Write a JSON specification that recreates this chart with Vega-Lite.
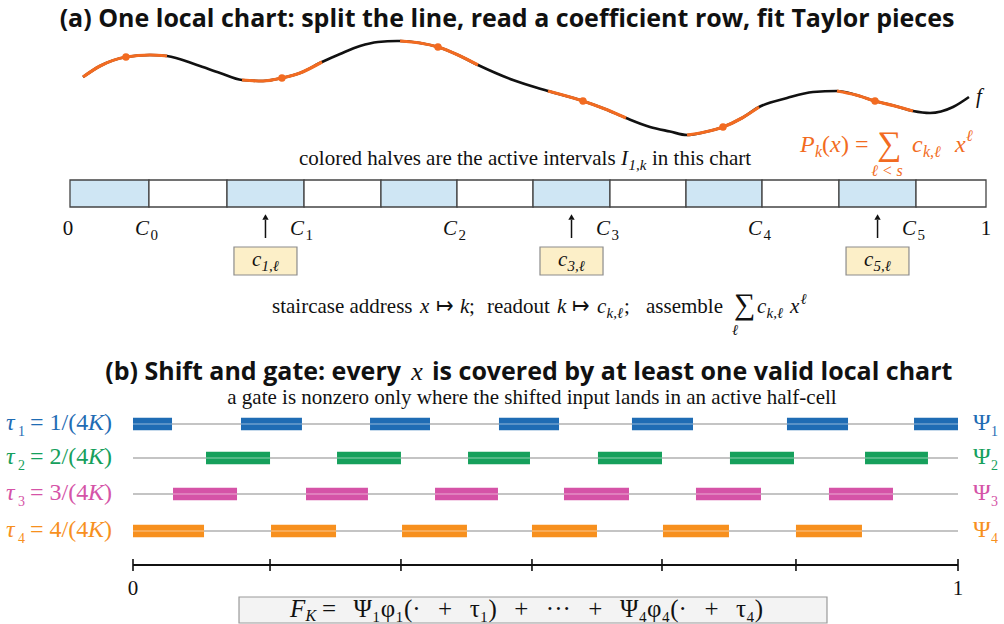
{
"$schema": "https://vega.github.io/schema/vega-lite/v6.json",
"padding": 0,
"spacing": 0,
"background": "white",
"config": {"view": {"stroke": null}, "concat": {"spacing": 0}},
"datasets": {
"cells": [
{"u0":0,"u1":0.0862,"active":true},{"u0":0.0862,"u1":0.1714,"active":false},
{"u0":0.1714,"u1":0.2555,"active":true},{"u0":0.2555,"u1":0.3395,"active":false},
{"u0":0.3395,"u1":0.4225,"active":true},{"u0":0.4225,"u1":0.5055,"active":false},
{"u0":0.5055,"u1":0.5895,"active":true},{"u0":0.5895,"u1":0.6725,"active":false},
{"u0":0.6725,"u1":0.7555,"active":true},{"u0":0.7555,"u1":0.8395,"active":false},
{"u0":0.8395,"u1":0.9236,"active":true},{"u0":0.9236,"u1":1.0,"active":false}],
"curve": [
{"u":0.0142,"v":77,"seg":1},{"u":0.0328,"v":66,"seg":1},{"u":0.0611,"v":57,"seg":1,"dot":1},{"u":0.0873,"v":55,"seg":1},{"u":0.1059,"v":56,"seg":1},
{"u":0.1386,"v":65,"seg":0},{"u":0.1638,"v":73,"seg":0},
{"u":0.1878,"v":80,"seg":2},{"u":0.2107,"v":81,"seg":2},{"u":0.2314,"v":78,"seg":2,"dot":1},{"u":0.2511,"v":73,"seg":2},{"u":0.2751,"v":62,"seg":2},
{"u":0.2948,"v":54,"seg":0},{"u":0.3166,"v":46,"seg":0},{"u":0.3362,"v":42,"seg":0},{"u":0.3570,"v":41,"seg":0},
{"u":0.3603,"v":41,"seg":3},{"u":0.3821,"v":43,"seg":3},{"u":0.4017,"v":47,"seg":3,"dot":1},{"u":0.4236,"v":55,"seg":3},{"u":0.4454,"v":65,"seg":3},
{"u":0.4836,"v":80,"seg":0},
{"u":0.5218,"v":91,"seg":4},{"u":0.5600,"v":101,"seg":4,"dot":1},{"u":0.5841,"v":109,"seg":4},{"u":0.6070,"v":118,"seg":4},
{"u":0.6332,"v":127,"seg":0},{"u":0.6550,"v":131.5,"seg":0},
{"u":0.6736,"v":135,"seg":5},{"u":0.6932,"v":132,"seg":5},{"u":0.7129,"v":127,"seg":5,"dot":1},{"u":0.7336,"v":118,"seg":5},{"u":0.7522,"v":107,"seg":5},
{"u":0.7828,"v":98,"seg":0},{"u":0.8111,"v":92,"seg":0},
{"u":0.8373,"v":91,"seg":6},{"u":0.8581,"v":95,"seg":6},{"u":0.8788,"v":101,"seg":6,"dot":1},{"u":0.9007,"v":106,"seg":6},{"u":0.9203,"v":111,"seg":6},
{"u":0.9389,"v":113,"seg":0},{"u":0.9640,"v":107,"seg":0},{"u":0.9814,"v":97,"seg":0}],
"arrows": [{"u":0.2134},{"u":0.5475},{"u":0.8816}],
"boxes": [{"u0":0.1790,"u1":0.2478},{"u0":0.5131,"u1":0.5819},{"u0":0.8472,"u1":0.9159}],
"a_title": [{"u":0.4771,"v":27,"t":"(a) One local chart: split the line, read a coefficient row, fit Taylor pieces"}],
"a_rm": [
{"u":0.2500,"v":165,"t":"colored halves are the active intervals"},
{"u":0.6354,"v":165,"t":"in this chart"},
{"u":0.2205,"v":313,"t":"staircase address"},
{"u":0.3996,"v":313,"t":"↦"},
{"u":0.4356,"v":313,"t":";"},
{"u":0.4552,"v":313,"t":"readout"},
{"u":0.5480,"v":313,"t":"↦"},
{"u":0.6048,"v":313,"t":";"},
{"u":0.6288,"v":313,"t":"assemble"}],
"a_rm_c": [{"u":-0.0022,"v":235,"t":"0"},{"u":1.0,"v":235,"t":"1"}],
"a_C": [{"u":0.0862,"v":235,"t":"C"},{"u":0.2555,"v":235,"t":"C"},{"u":0.4225,"v":235,"t":"C"},{"u":0.5895,"v":235,"t":"C"},{"u":0.7555,"v":235,"t":"C"},{"u":0.9236,"v":235,"t":"C"}],
"a_Csub": [{"u":0.0878,"v":240,"t":"0"},{"u":0.2571,"v":240,"t":"1"},{"u":0.4241,"v":240,"t":"2"},{"u":0.5911,"v":240,"t":"3"},{"u":0.7571,"v":240,"t":"4"},{"u":0.9252,"v":240,"t":"5"}],
"a_it": [
{"u":0.6015,"v":165,"t":"I"},
{"u":0.3821,"v":313,"t":"x"},
{"u":0.4258,"v":313,"t":"k"},
{"u":0.5317,"v":313,"t":"k"},
{"u":0.5753,"v":313,"t":"c"},
{"u":0.7500,"v":313,"t":"c"},
{"u":0.7860,"v":313,"t":"x"},
{"u":0.1987,"v":266,"t":"c"},
{"u":0.5328,"v":266,"t":"c"},
{"u":0.8668,"v":266,"t":"c"},
{"u":0.9891,"v":103,"t":"f"}],
"a_sub": [
{"u":0.6097,"v":170,"t":"1,k"},
{"u":0.5857,"v":318,"t":"k,ℓ"},
{"u":0.7604,"v":318,"t":"k,ℓ"},
{"u":0.7975,"v":304,"t":"ℓ"},
{"u":0.2091,"v":271,"t":"1,ℓ"},
{"u":0.5431,"v":271,"t":"3,ℓ"},
{"u":0.8772,"v":271,"t":"5,ℓ"}],
"a_sub_c": [{"u":0.7260,"v":335,"t":"ℓ"}],
"a_sum": [{"u":0.7249,"v":314,"t":"∑"}],
"o_it": [{"u":0.7969,"v":152,"t":"P"},{"u":0.8297,"v":152,"t":"x"},{"u":0.9192,"v":152,"t":"c"},{"u":0.9662,"v":152,"t":"x"}],
"o_rm": [{"u":0.8210,"v":152,"t":"("},{"u":0.8417,"v":152,"t":") ="}],
"o_sub": [{"u":0.8133,"v":157,"t":"k"},{"u":0.9312,"v":157,"t":"k,ℓ"},{"u":0.9782,"v":141,"t":"ℓ"}],
"o_sub_c": [{"u":0.8919,"v":176,"t":"ℓ < s"}],
"o_sum": [{"u":0.8810,"v":155,"t":"∑"}],
"b_title_l": [{"w":0.3248,"v":380,"t":"(b) Shift and gate: every"}],
"b_title_r": [{"w":0.3624,"v":380,"t":"is covered by at least one valid local chart"}],
"b_x": [{"w":0.3442,"v":380,"t":"x"}],
"b_subtitle": [{"w":0.4836,"v":404,"t":"a gate is nonzero only where the shifted input lands in an active half-cell"}],
"rows": [{"row":"1","v":424},{"row":"2","v":458},{"row":"3","v":494},{"row":"4","v":531}],
"bars": [
{"row":"1","v":424,"w0":0,"w1":0.0473},{"row":"1","v":424,"w0":0.1309,"w1":0.2048},{"row":"1","v":424,"w0":0.2873,"w1":0.3600},{"row":"1","v":424,"w0":0.4436,"w1":0.5164},{"row":"1","v":424,"w0":0.6048,"w1":0.6788},{"row":"1","v":424,"w0":0.7927,"w1":0.8667},{"row":"1","v":424,"w0":0.9467,"w1":1.0},
{"row":"2","v":458,"w0":0.0885,"w1":0.1661},{"row":"2","v":458,"w0":0.2473,"w1":0.3248},{"row":"2","v":458,"w0":0.4061,"w1":0.4812},{"row":"2","v":458,"w0":0.5636,"w1":0.6412},{"row":"2","v":458,"w0":0.7236,"w1":0.8012},{"row":"2","v":458,"w0":0.8873,"w1":0.9636},
{"row":"3","v":494,"w0":0.0485,"w1":0.1261},{"row":"3","v":494,"w0":0.2097,"w1":0.2848},{"row":"3","v":494,"w0":0.3661,"w1":0.4424},{"row":"3","v":494,"w0":0.5224,"w1":0.6012},{"row":"3","v":494,"w0":0.6824,"w1":0.7612},{"row":"3","v":494,"w0":0.8436,"w1":0.9212},
{"row":"4","v":531,"w0":0,"w1":0.0861},{"row":"4","v":531,"w0":0.1673,"w1":0.2461},{"row":"4","v":531,"w0":0.3261,"w1":0.4048},{"row":"4","v":531,"w0":0.4836,"w1":0.5624},{"row":"4","v":531,"w0":0.6424,"w1":0.7224},{"row":"4","v":531,"w0":0.8036,"w1":0.8836}],
"ticks": [{"w":0},{"w":0.1661},{"w":0.3248},{"w":0.4836},{"w":0.6412},{"w":0.8036},{"w":1}],
"lab_it": [
{"row":"1","w":-0.1539,"v":430,"t":"τ"},{"row":"1","w":-0.0545,"v":430,"t":"K"},
{"row":"2","w":-0.1539,"v":464,"t":"τ"},{"row":"2","w":-0.0545,"v":464,"t":"K"},
{"row":"3","w":-0.1539,"v":500,"t":"τ"},{"row":"3","w":-0.0545,"v":500,"t":"K"},
{"row":"4","w":-0.1539,"v":537,"t":"τ"},{"row":"4","w":-0.0545,"v":537,"t":"K"}],
"lab_rm": [
{"row":"1","w":-0.1248,"v":430,"t":"= 1/(4"},{"row":"1","w":-0.0352,"v":430,"t":")"},{"row":"1","w":1.0182,"v":430,"t":"Ψ"},
{"row":"2","w":-0.1248,"v":464,"t":"= 2/(4"},{"row":"2","w":-0.0352,"v":464,"t":")"},{"row":"2","w":1.0182,"v":464,"t":"Ψ"},
{"row":"3","w":-0.1248,"v":500,"t":"= 3/(4"},{"row":"3","w":-0.0352,"v":500,"t":")"},{"row":"3","w":1.0182,"v":500,"t":"Ψ"},
{"row":"4","w":-0.1248,"v":537,"t":"= 4/(4"},{"row":"4","w":-0.0352,"v":537,"t":")"},{"row":"4","w":1.0182,"v":537,"t":"Ψ"}],
"lab_sub": [
{"row":"1","w":-0.1394,"v":436,"t":"1"},{"row":"1","w":1.04,"v":436,"t":"1"},
{"row":"2","w":-0.1394,"v":470,"t":"2"},{"row":"2","w":1.04,"v":470,"t":"2"},
{"row":"3","w":-0.1394,"v":506,"t":"3"},{"row":"3","w":1.04,"v":506,"t":"3"},
{"row":"4","w":-0.1394,"v":543,"t":"4"},{"row":"4","w":1.04,"v":543,"t":"4"}],
"b_num": [{"w":0,"v":595,"t":"0"},{"w":1,"v":595,"t":"1"}],
"fbox": [{"w0":0.1285,"w1":0.8412}],
"f_it": [{"w":0.1903,"v":617,"t":"F"}],
"f_sub": [{"w":0.2091,"v":621,"t":"K"}],
"f_rm": [{"w":0.2291,"v":617,"t":"=\u2002\u2009Ψ₁φ₁(·\u2002\u2009+\u2002\u2009τ₁)\u2002\u2009+\u2002\u2009···\u2002\u2009+\u2002\u2009Ψ₄φ₄(·\u2002\u2009+\u2002\u2009τ₄)"}]
},
"vconcat": [
{
"width": 1004, "height": 340,
"layer": [
{"data":{"name":"cells"},"mark":{"type":"rect","stroke":"#444444","strokeWidth":1.3},
 "encoding":{"x":{"field":"u0","type":"quantitative","scale":{"domain":[-0.07642,1.01965],"nice":false,"zero":false},"axis":null},"x2":{"field":"u1"},
 "y":{"datum":180,"type":"quantitative","scale":{"domain":[0,340],"reverse":true,"nice":false,"zero":false},"axis":null},"y2":{"datum":207},
 "fill":{"condition":{"test":"datum.active","value":"#cfe6f4"},"value":"#ffffff"}}},
{"data":{"name":"curve"},"mark":{"type":"line","color":"#111111","strokeWidth":2.6,"interpolate":"monotone"},
 "encoding":{"x":{"field":"u","type":"quantitative","scale":{"domain":[-0.07642,1.01965],"nice":false,"zero":false},"axis":null},
 "y":{"field":"v","type":"quantitative","scale":{"domain":[0,340],"reverse":true,"nice":false,"zero":false},"axis":null}}},
{"data":{"name":"curve"},"transform":[{"filter":"datum.seg > 0"}],"mark":{"type":"line","color":"#f26b21","strokeWidth":3.2,"interpolate":"monotone"},
 "encoding":{"x":{"field":"u","type":"quantitative","scale":{"domain":[-0.07642,1.01965],"nice":false,"zero":false},"axis":null},
 "y":{"field":"v","type":"quantitative","scale":{"domain":[0,340],"reverse":true,"nice":false,"zero":false},"axis":null},
 "detail":{"field":"seg","type":"nominal"}}},
{"data":{"name":"curve"},"transform":[{"filter":"datum.dot == 1"}],"mark":{"type":"point","filled":true,"color":"#f26b21","size":55,"opacity":1},
 "encoding":{"x":{"field":"u","type":"quantitative","scale":{"domain":[-0.07642,1.01965],"nice":false,"zero":false},"axis":null},
 "y":{"field":"v","type":"quantitative","scale":{"domain":[0,340],"reverse":true,"nice":false,"zero":false},"axis":null}}},
{"data":{"name":"arrows"},"mark":{"type":"rule","color":"#111111","strokeWidth":1.5},
 "encoding":{"x":{"field":"u","type":"quantitative","scale":{"domain":[-0.07642,1.01965],"nice":false,"zero":false},"axis":null},
 "y":{"datum":238,"type":"quantitative","scale":{"domain":[0,340],"reverse":true,"nice":false,"zero":false},"axis":null},"y2":{"datum":220}}},
{"data":{"name":"arrows"},"mark":{"type":"point","shape":"triangle-up","filled":true,"color":"#111111","size":40,"opacity":1},
 "encoding":{"x":{"field":"u","type":"quantitative","scale":{"domain":[-0.07642,1.01965],"nice":false,"zero":false},"axis":null},
 "y":{"datum":217,"type":"quantitative","scale":{"domain":[0,340],"reverse":true,"nice":false,"zero":false},"axis":null}}},
{"data":{"name":"boxes"},"mark":{"type":"rect","fill":"#fcefc8","stroke":"#8c8c8c","strokeWidth":1.2},
 "encoding":{"x":{"field":"u0","type":"quantitative","scale":{"domain":[-0.07642,1.01965],"nice":false,"zero":false},"axis":null},"x2":{"field":"u1"},
 "y":{"datum":247,"type":"quantitative","scale":{"domain":[0,340],"reverse":true,"nice":false,"zero":false},"axis":null},"y2":{"datum":275}}},
{"data":{"name":"a_title"},"mark":{"type":"text","font":"Open Sans","fontWeight":"bold","fontSize":25,"align":"center","baseline":"alphabetic","color":"#111111"},
 "encoding":{"x":{"field":"u","type":"quantitative","scale":{"domain":[-0.07642,1.01965],"nice":false,"zero":false},"axis":null},
 "y":{"field":"v","type":"quantitative","scale":{"domain":[0,340],"reverse":true,"nice":false,"zero":false},"axis":null},"text":{"field":"t"}}},
{"data":{"name":"a_rm"},"mark":{"type":"text","font":"Liberation Serif","fontSize":21,"align":"left","baseline":"alphabetic","color":"#111111"},
 "encoding":{"x":{"field":"u","type":"quantitative","scale":{"domain":[-0.07642,1.01965],"nice":false,"zero":false},"axis":null},
 "y":{"field":"v","type":"quantitative","scale":{"domain":[0,340],"reverse":true,"nice":false,"zero":false},"axis":null},"text":{"field":"t"}}},
{"data":{"name":"a_rm_c"},"mark":{"type":"text","font":"Liberation Serif","fontSize":21,"align":"center","baseline":"alphabetic","color":"#111111"},
 "encoding":{"x":{"field":"u","type":"quantitative","scale":{"domain":[-0.07642,1.01965],"nice":false,"zero":false},"axis":null},
 "y":{"field":"v","type":"quantitative","scale":{"domain":[0,340],"reverse":true,"nice":false,"zero":false},"axis":null},"text":{"field":"t"}}},
{"data":{"name":"a_C"},"mark":{"type":"text","font":"Liberation Serif","fontStyle":"italic","fontSize":21,"align":"right","baseline":"alphabetic","color":"#111111"},
 "encoding":{"x":{"field":"u","type":"quantitative","scale":{"domain":[-0.07642,1.01965],"nice":false,"zero":false},"axis":null},
 "y":{"field":"v","type":"quantitative","scale":{"domain":[0,340],"reverse":true,"nice":false,"zero":false},"axis":null},"text":{"field":"t"}}},
{"data":{"name":"a_Csub"},"mark":{"type":"text","font":"Liberation Serif","fontSize":15,"align":"left","baseline":"alphabetic","color":"#111111"},
 "encoding":{"x":{"field":"u","type":"quantitative","scale":{"domain":[-0.07642,1.01965],"nice":false,"zero":false},"axis":null},
 "y":{"field":"v","type":"quantitative","scale":{"domain":[0,340],"reverse":true,"nice":false,"zero":false},"axis":null},"text":{"field":"t"}}},
{"data":{"name":"a_it"},"mark":{"type":"text","font":"Liberation Serif","fontStyle":"italic","fontSize":21,"align":"left","baseline":"alphabetic","color":"#111111"},
 "encoding":{"x":{"field":"u","type":"quantitative","scale":{"domain":[-0.07642,1.01965],"nice":false,"zero":false},"axis":null},
 "y":{"field":"v","type":"quantitative","scale":{"domain":[0,340],"reverse":true,"nice":false,"zero":false},"axis":null},"text":{"field":"t"}}},
{"data":{"name":"a_sub"},"mark":{"type":"text","font":"Liberation Serif","fontStyle":"italic","fontSize":15,"align":"left","baseline":"alphabetic","color":"#111111"},
 "encoding":{"x":{"field":"u","type":"quantitative","scale":{"domain":[-0.07642,1.01965],"nice":false,"zero":false},"axis":null},
 "y":{"field":"v","type":"quantitative","scale":{"domain":[0,340],"reverse":true,"nice":false,"zero":false},"axis":null},"text":{"field":"t"}}},
{"data":{"name":"a_sub_c"},"mark":{"type":"text","font":"Liberation Serif","fontStyle":"italic","fontSize":15,"align":"center","baseline":"alphabetic","color":"#111111"},
 "encoding":{"x":{"field":"u","type":"quantitative","scale":{"domain":[-0.07642,1.01965],"nice":false,"zero":false},"axis":null},
 "y":{"field":"v","type":"quantitative","scale":{"domain":[0,340],"reverse":true,"nice":false,"zero":false},"axis":null},"text":{"field":"t"}}},
{"data":{"name":"a_sum"},"mark":{"type":"text","font":"Liberation Serif","fontSize":30,"align":"left","baseline":"alphabetic","color":"#111111"},
 "encoding":{"x":{"field":"u","type":"quantitative","scale":{"domain":[-0.07642,1.01965],"nice":false,"zero":false},"axis":null},
 "y":{"field":"v","type":"quantitative","scale":{"domain":[0,340],"reverse":true,"nice":false,"zero":false},"axis":null},"text":{"field":"t"}}},
{"data":{"name":"o_it"},"mark":{"type":"text","font":"Liberation Serif","fontStyle":"italic","fontSize":24,"align":"left","baseline":"alphabetic","color":"#f26b21"},
 "encoding":{"x":{"field":"u","type":"quantitative","scale":{"domain":[-0.07642,1.01965],"nice":false,"zero":false},"axis":null},
 "y":{"field":"v","type":"quantitative","scale":{"domain":[0,340],"reverse":true,"nice":false,"zero":false},"axis":null},"text":{"field":"t"}}},
{"data":{"name":"o_rm"},"mark":{"type":"text","font":"Liberation Serif","fontSize":24,"align":"left","baseline":"alphabetic","color":"#f26b21"},
 "encoding":{"x":{"field":"u","type":"quantitative","scale":{"domain":[-0.07642,1.01965],"nice":false,"zero":false},"axis":null},
 "y":{"field":"v","type":"quantitative","scale":{"domain":[0,340],"reverse":true,"nice":false,"zero":false},"axis":null},"text":{"field":"t"}}},
{"data":{"name":"o_sub"},"mark":{"type":"text","font":"Liberation Serif","fontStyle":"italic","fontSize":16,"align":"left","baseline":"alphabetic","color":"#f26b21"},
 "encoding":{"x":{"field":"u","type":"quantitative","scale":{"domain":[-0.07642,1.01965],"nice":false,"zero":false},"axis":null},
 "y":{"field":"v","type":"quantitative","scale":{"domain":[0,340],"reverse":true,"nice":false,"zero":false},"axis":null},"text":{"field":"t"}}},
{"data":{"name":"o_sub_c"},"mark":{"type":"text","font":"Liberation Serif","fontStyle":"italic","fontSize":16,"align":"center","baseline":"alphabetic","color":"#f26b21"},
 "encoding":{"x":{"field":"u","type":"quantitative","scale":{"domain":[-0.07642,1.01965],"nice":false,"zero":false},"axis":null},
 "y":{"field":"v","type":"quantitative","scale":{"domain":[0,340],"reverse":true,"nice":false,"zero":false},"axis":null},"text":{"field":"t"}}},
{"data":{"name":"o_sum"},"mark":{"type":"text","font":"Liberation Serif","fontSize":34,"align":"left","baseline":"alphabetic","color":"#f26b21"},
 "encoding":{"x":{"field":"u","type":"quantitative","scale":{"domain":[-0.07642,1.01965],"nice":false,"zero":false},"axis":null},
 "y":{"field":"v","type":"quantitative","scale":{"domain":[0,340],"reverse":true,"nice":false,"zero":false},"axis":null},"text":{"field":"t"}}}
]
},
{
"width": 1004, "height": 284,
"layer": [
{"data":{"name":"rows"},"mark":{"type":"rule","color":"#b0b0b0","strokeWidth":1.4},
 "encoding":{"x":{"datum":0,"type":"quantitative","scale":{"domain":[-0.16121,1.05576],"nice":false,"zero":false},"axis":null},"x2":{"datum":1},
 "y":{"field":"v","type":"quantitative","scale":{"domain":[340,624],"reverse":true,"nice":false,"zero":false},"axis":null}}},
{"data":{"name":"bars"},"mark":{"type":"rule","strokeWidth":12.5,"strokeCap":"butt"},
 "encoding":{"x":{"field":"w0","type":"quantitative","scale":{"domain":[-0.16121,1.05576],"nice":false,"zero":false},"axis":null},"x2":{"field":"w1"},
 "y":{"field":"v","type":"quantitative","scale":{"domain":[340,624],"reverse":true,"nice":false,"zero":false},"axis":null},
 "color":{"field":"row","type":"nominal","scale":{"domain":["1","2","3","4"],"range":["#1f6cb4","#16a05c","#d553a7","#f7901e"]},"legend":null}}},
{"data":{"name":"bars"},"mark":{"type":"rule","color":"#ffffff","strokeWidth":1.4,"opacity":0.35,"strokeCap":"butt"},
 "encoding":{"x":{"field":"w0","type":"quantitative","scale":{"domain":[-0.16121,1.05576],"nice":false,"zero":false},"axis":null},"x2":{"field":"w1"},
 "y":{"field":"v","type":"quantitative","scale":{"domain":[340,624],"reverse":true,"nice":false,"zero":false},"axis":null}}},
{"data":{"values":[{}]},"mark":{"type":"rule","color":"#111111","strokeWidth":2.2},
 "encoding":{"x":{"datum":0,"type":"quantitative","scale":{"domain":[-0.16121,1.05576],"nice":false,"zero":false},"axis":null},"x2":{"datum":1},
 "y":{"datum":565,"type":"quantitative","scale":{"domain":[340,624],"reverse":true,"nice":false,"zero":false},"axis":null}}},
{"data":{"name":"ticks"},"mark":{"type":"rule","color":"#111111","strokeWidth":1.6},
 "encoding":{"x":{"field":"w","type":"quantitative","scale":{"domain":[-0.16121,1.05576],"nice":false,"zero":false},"axis":null},
 "y":{"datum":559,"type":"quantitative","scale":{"domain":[340,624],"reverse":true,"nice":false,"zero":false},"axis":null},"y2":{"datum":571}}},
{"data":{"name":"fbox"},"mark":{"type":"rect","fill":"#f3f3f3","stroke":"#9a9a9a","strokeWidth":1.2},
 "encoding":{"x":{"field":"w0","type":"quantitative","scale":{"domain":[-0.16121,1.05576],"nice":false,"zero":false},"axis":null},"x2":{"field":"w1"},
 "y":{"datum":597,"type":"quantitative","scale":{"domain":[340,624],"reverse":true,"nice":false,"zero":false},"axis":null},"y2":{"datum":623}}},
{"data":{"name":"b_title_l"},"mark":{"type":"text","font":"Open Sans","fontWeight":"bold","fontSize":25,"align":"right","baseline":"alphabetic","color":"#111111"},
 "encoding":{"x":{"field":"w","type":"quantitative","scale":{"domain":[-0.16121,1.05576],"nice":false,"zero":false},"axis":null},
 "y":{"field":"v","type":"quantitative","scale":{"domain":[340,624],"reverse":true,"nice":false,"zero":false},"axis":null},"text":{"field":"t"}}},
{"data":{"name":"b_title_r"},"mark":{"type":"text","font":"Open Sans","fontWeight":"bold","fontSize":25,"align":"left","baseline":"alphabetic","color":"#111111"},
 "encoding":{"x":{"field":"w","type":"quantitative","scale":{"domain":[-0.16121,1.05576],"nice":false,"zero":false},"axis":null},
 "y":{"field":"v","type":"quantitative","scale":{"domain":[340,624],"reverse":true,"nice":false,"zero":false},"axis":null},"text":{"field":"t"}}},
{"data":{"name":"b_x"},"mark":{"type":"text","font":"Liberation Serif","fontStyle":"italic","fontSize":26,"align":"center","baseline":"alphabetic","color":"#111111"},
 "encoding":{"x":{"field":"w","type":"quantitative","scale":{"domain":[-0.16121,1.05576],"nice":false,"zero":false},"axis":null},
 "y":{"field":"v","type":"quantitative","scale":{"domain":[340,624],"reverse":true,"nice":false,"zero":false},"axis":null},"text":{"field":"t"}}},
{"data":{"name":"b_subtitle"},"mark":{"type":"text","font":"Liberation Serif","fontSize":21,"align":"center","baseline":"alphabetic","color":"#111111"},
 "encoding":{"x":{"field":"w","type":"quantitative","scale":{"domain":[-0.16121,1.05576],"nice":false,"zero":false},"axis":null},
 "y":{"field":"v","type":"quantitative","scale":{"domain":[340,624],"reverse":true,"nice":false,"zero":false},"axis":null},"text":{"field":"t"}}},
{"data":{"name":"lab_it"},"mark":{"type":"text","font":"Liberation Serif","fontStyle":"italic","fontSize":24,"align":"left","baseline":"alphabetic"},
 "encoding":{"x":{"field":"w","type":"quantitative","scale":{"domain":[-0.16121,1.05576],"nice":false,"zero":false},"axis":null},
 "y":{"field":"v","type":"quantitative","scale":{"domain":[340,624],"reverse":true,"nice":false,"zero":false},"axis":null},"text":{"field":"t"},
 "color":{"field":"row","type":"nominal","scale":{"domain":["1","2","3","4"],"range":["#1f6cb4","#16a05c","#d553a7","#f7901e"]},"legend":null}}},
{"data":{"name":"lab_rm"},"mark":{"type":"text","font":"Liberation Serif","fontSize":24,"align":"left","baseline":"alphabetic"},
 "encoding":{"x":{"field":"w","type":"quantitative","scale":{"domain":[-0.16121,1.05576],"nice":false,"zero":false},"axis":null},
 "y":{"field":"v","type":"quantitative","scale":{"domain":[340,624],"reverse":true,"nice":false,"zero":false},"axis":null},"text":{"field":"t"},
 "color":{"field":"row","type":"nominal","scale":{"domain":["1","2","3","4"],"range":["#1f6cb4","#16a05c","#d553a7","#f7901e"]},"legend":null}}},
{"data":{"name":"lab_sub"},"mark":{"type":"text","font":"Liberation Serif","fontSize":14,"align":"left","baseline":"alphabetic"},
 "encoding":{"x":{"field":"w","type":"quantitative","scale":{"domain":[-0.16121,1.05576],"nice":false,"zero":false},"axis":null},
 "y":{"field":"v","type":"quantitative","scale":{"domain":[340,624],"reverse":true,"nice":false,"zero":false},"axis":null},"text":{"field":"t"},
 "color":{"field":"row","type":"nominal","scale":{"domain":["1","2","3","4"],"range":["#1f6cb4","#16a05c","#d553a7","#f7901e"]},"legend":null}}},
{"data":{"name":"b_num"},"mark":{"type":"text","font":"Liberation Serif","fontSize":21,"align":"center","baseline":"alphabetic","color":"#111111"},
 "encoding":{"x":{"field":"w","type":"quantitative","scale":{"domain":[-0.16121,1.05576],"nice":false,"zero":false},"axis":null},
 "y":{"field":"v","type":"quantitative","scale":{"domain":[340,624],"reverse":true,"nice":false,"zero":false},"axis":null},"text":{"field":"t"}}},
{"data":{"name":"f_it"},"mark":{"type":"text","font":"Liberation Serif","fontStyle":"italic","fontSize":25,"align":"left","baseline":"alphabetic","color":"#111111"},
 "encoding":{"x":{"field":"w","type":"quantitative","scale":{"domain":[-0.16121,1.05576],"nice":false,"zero":false},"axis":null},
 "y":{"field":"v","type":"quantitative","scale":{"domain":[340,624],"reverse":true,"nice":false,"zero":false},"axis":null},"text":{"field":"t"}}},
{"data":{"name":"f_sub"},"mark":{"type":"text","font":"Liberation Serif","fontStyle":"italic","fontSize":16,"align":"left","baseline":"alphabetic","color":"#111111"},
 "encoding":{"x":{"field":"w","type":"quantitative","scale":{"domain":[-0.16121,1.05576],"nice":false,"zero":false},"axis":null},
 "y":{"field":"v","type":"quantitative","scale":{"domain":[340,624],"reverse":true,"nice":false,"zero":false},"axis":null},"text":{"field":"t"}}},
{"data":{"name":"f_rm"},"mark":{"type":"text","font":"Liberation Serif","fontSize":25,"align":"left","baseline":"alphabetic","color":"#111111"},
 "encoding":{"x":{"field":"w","type":"quantitative","scale":{"domain":[-0.16121,1.05576],"nice":false,"zero":false},"axis":null},
 "y":{"field":"v","type":"quantitative","scale":{"domain":[340,624],"reverse":true,"nice":false,"zero":false},"axis":null},"text":{"field":"t"}}}
]
}
]
}
